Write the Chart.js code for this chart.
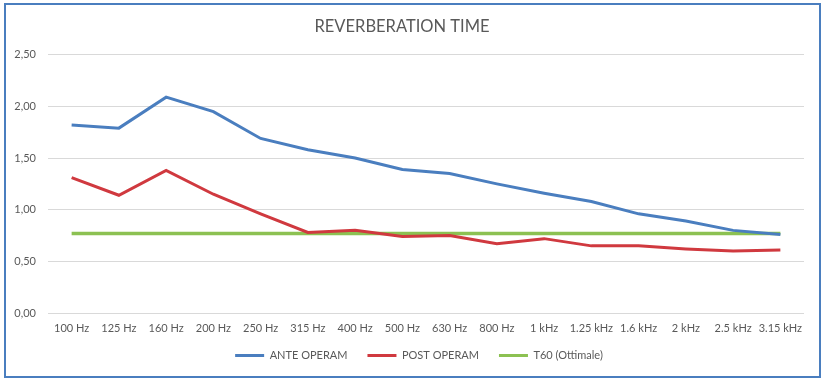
<!DOCTYPE html>
<html>
<head>
<meta charset="utf-8">
<script src="https://cdn.jsdelivr.net/npm/chart.js@4"></script>
<style>
  html, body { margin: 0; padding: 0; background: #fff; }
  #wrap { position: relative; width: 825px; height: 382px; }
  #frame { position: absolute; left: 4px; top: 3px; width: 817px; height: 375px; box-sizing: border-box; border: 2px solid #4a7ebf; pointer-events: none; }
</style>
</head>
<body>
<div id="wrap">
  <canvas id="c" width="825" height="382"></canvas>
  <div id="frame"></div>
</div>
<script>
const categories = ['100 Hz','125 Hz','160 Hz','200 Hz','250 Hz','315 Hz','400 Hz','500 Hz','630 Hz','800 Hz','1 kHz','1.25 kHz','1.6 kHz','2 kHz','2.5 kHz','3.15 kHz'];
const anteOperam = [1.82,1.79,2.09,1.95,1.69,1.58,1.50,1.39,1.35,1.25,1.16,1.08,0.96,0.89,0.80,0.76];
const postOperam = [1.31,1.14,1.38,1.15,0.96,0.78,0.80,0.74,0.75,0.67,0.72,0.65,0.65,0.62,0.60,0.61];
const t60Ottimale = [0.77,0.77,0.77,0.77,0.77,0.77,0.77,0.77,0.77,0.77,0.77,0.77,0.77,0.77,0.77,0.77];
const yTicks = [0,0.5,1,1.5,2,2.5];

const FONT = 'Lato, "Open Sans", sans-serif';
const TXT = '#595959';

const legendShift = {
  id: 'legendShift',
  afterLayout(chart) {
    const lg = chart.legend;
    if (!lg) return;
    lg.top -= 10; lg.bottom -= 10;
    lg.left += 17; lg.right += 17;
  }
};

new Chart(document.getElementById('c'), {
  type: 'line',
  data: {
    labels: categories,
    datasets: [
      { label: 'ANTE OPERAM', data: anteOperam, borderColor: '#4a7ebf', backgroundColor: '#4a7ebf', borderWidth: 3, pointRadius: 0, tension: 0 },
      { label: 'POST OPERAM', data: postOperam, borderColor: '#d0393f', backgroundColor: '#d0393f', borderWidth: 3, pointRadius: 0, tension: 0 },
      { label: 'T60 (Ottimale)', data: t60Ottimale, borderColor: '#8cc152', backgroundColor: '#8cc152', borderWidth: 3.5, pointRadius: 0, tension: 0 }
    ]
  },
  plugins: [legendShift],
  options: {
    responsive: false,
    animation: false,
    layout: { padding: { left: 0, right: 21, top: 0, bottom: 1 } },
    plugins: {
      title: {
        display: true,
        text: 'REVERBERATION TIME',
        color: TXT,
        font: { family: FONT, size: 16.5, weight: 'normal' },
        padding: { top: 17, bottom: 18 }
      },
      legend: {
        position: 'bottom',
        labels: {
          color: TXT,
          font: { family: FONT, size: 11 },
          boxWidth: 29,
          boxHeight: 3,
          padding: 20,
          generateLabels(chart) {
            return chart.data.datasets.map((ds, i) => ({
              text: ds.label,
              fillStyle: ds.borderColor,
              strokeStyle: ds.borderColor,
              lineWidth: 0,
              hidden: false,
              datasetIndex: i,
              fontColor: TXT
            }));
          }
        }
      },
      tooltip: { enabled: false }
    },
    scales: {
      x: {
        offset: true,
        grid: { display: false, drawTicks: false },
        border: { display: false },
        ticks: { color: TXT, font: { family: FONT, size: 11 }, padding: 9, maxRotation: 0, autoSkip: false },
        afterFit(scale) { scale.height = 27; }
      },
      y: {
        min: 0,
        max: 2.5,
        afterBuildTicks(scale) { scale.ticks = yTicks.map(v => ({ value: v })); },
        grid: { color: '#d9d9d9', lineWidth: 1, drawTicks: false },
        border: { display: false },
        ticks: {
          color: TXT,
          font: { family: FONT, size: 11 },
          padding: 12,
          callback: v => Number(v).toFixed(2).replace('.', ',')
        },
        afterFit(scale) { scale.width = 48; }
      }
    }
  }
});
</script>
</body>
</html>
